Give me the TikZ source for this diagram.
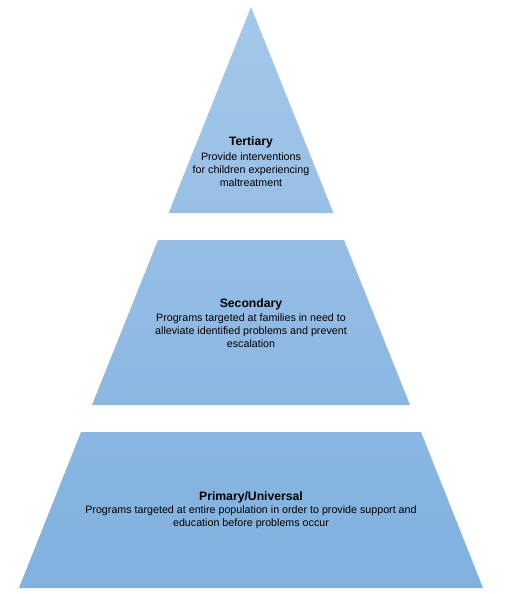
\documentclass[tikz,border=0pt]{standalone}
\usepackage{fontspec}
\setmainfont{Liberation Sans}
\definecolor{tierA}{HTML}{A4C8EA}
\definecolor{tierB}{HTML}{98BFE6}
\definecolor{tierC}{HTML}{96BEE5}
\definecolor{tierD}{HTML}{8BB7E2}
\definecolor{tierE}{HTML}{89B6E2}
\definecolor{tierF}{HTML}{80B1DF}
\begin{document}
\begin{tikzpicture}[x=1pt,y=-1pt,
  tiertitle/.style={font=\fontsize{12.2}{14}\selectfont\bfseries,inner sep=0pt},
  tierbody/.style={font=\fontsize{10.7}{13}\selectfont,align=center,inner sep=0pt}]
\useasboundingbox (0,0) rectangle (520,594);
% ---------- tertiary (apex) ----------
\shade[top color=tierA,bottom color=tierB] (251,7) -- (333.4,213) -- (168.6,213) -- cycle;
\node[tiertitle] (tert) at (251,142) {Tertiary};
\node[tierbody] (tertText) at (251,170) {Provide interventions\\for children experiencing\\maltreatment};
% ---------- secondary ----------
\shade[top color=tierC,bottom color=tierD] (158,240) -- (344,240) -- (410,405) -- (92,405) -- cycle;
\node[tiertitle] (second) at (251,304) {Secondary};
\node[tierbody] (secondText) at (251,331) {Programs targeted at families in need to\\alleviate identified problems and prevent\\escalation};
% ---------- primary / universal ----------
\shade[top color=tierE,bottom color=tierF] (81,432) -- (421,432) -- (483,588) -- (19,588) -- cycle;
\node[tiertitle] (prim) at (251,497) {Primary/Universal};
\node[tierbody] (primText) at (251,517) {Programs targeted at entire population in order to provide support and\\education before problems occur};
\end{tikzpicture}
\end{document}
